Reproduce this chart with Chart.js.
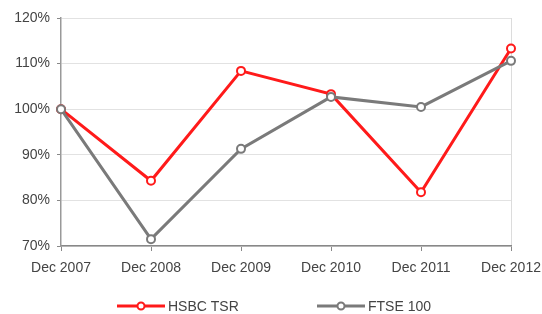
<!DOCTYPE html>
<html>
<head>
<meta charset="utf-8">
<script src="https://cdn.jsdelivr.net/npm/chart.js@4.4.0/dist/chart.umd.min.js"></script>
<style>
  html, body { margin: 0; padding: 0; background: #fff; }
  #wrap { width: 542px; height: 314px; }
</style>
</head>
<body>
<div id="wrap"><canvas id="chart" width="542" height="314"></canvas></div>
<script>
const years = ["Dec 2007", "Dec 2008", "Dec 2009", "Dec 2010", "Dec 2011", "Dec 2012"];
const hsbcTsr = [100, 84.3, 108.4, 103.3, 81.8, 113.3];
const ftse100 = [100, 71.5, 91.3, 102.7, 100.5, 110.6];
const yTicks = [70, 80, 90, 100, 110, 120];

const RED = "#ff1a1a";
const GREY = "#7a7a7a";
const TEXT = "#444";
const FONT = "'Liberation Sans', Arial, sans-serif";

// legend drawn under the axis, line + hollow marker like the original
const bottomLegend = {
  id: "bottomLegend",
  afterDraw(chart) {
    const ctx = chart.ctx;
    const y = 306;
    const items = [
      { x: 117, label: "HSBC TSR", color: RED },
      { x: 317, label: "FTSE 100", color: GREY }
    ];
    ctx.save();
    items.forEach(it => {
      ctx.strokeStyle = it.color;
      ctx.lineWidth = 3;
      ctx.beginPath();
      ctx.moveTo(it.x, y);
      ctx.lineTo(it.x + 48, y);
      ctx.stroke();
      ctx.lineWidth = 2;
      ctx.fillStyle = "#fff";
      ctx.beginPath();
      ctx.arc(it.x + 24, y, 3.5, 0, Math.PI * 2);
      ctx.fill();
      ctx.stroke();
      ctx.fillStyle = TEXT;
      ctx.font = "14px " + FONT;
      ctx.textBaseline = "middle";
      ctx.fillText(it.label, it.x + 51, y + 1);
    });
    ctx.restore();
  }
};

new Chart(document.getElementById("chart"), {
  type: "line",
  data: {
    labels: years,
    datasets: [
      {
        label: "FTSE 100",
        data: ftse100,
        borderColor: GREY,
        borderWidth: 3,
        pointRadius: 4,
        pointBorderWidth: 2,
        pointBackgroundColor: "#fff",
        pointBorderColor: GREY,
        tension: 0
      },
      {
        label: "HSBC TSR",
        data: hsbcTsr,
        borderColor: RED,
        borderWidth: 3,
        pointRadius: 4,
        pointBorderWidth: 2,
        pointBackgroundColor: "#fff",
        pointBorderColor: RED,
        tension: 0
      }
    ]
  },
  options: {
    responsive: false,
    animation: false,
    layout: { padding: { top: 18, right: 31, left: 0, bottom: 0 } },
    plugins: {
      legend: { display: false },
      tooltip: { enabled: false }
    },
    scales: {
      x: {
        offset: false,
        grid: {
          color: c => (c.index === years.length - 1 ? "#dcdcdc" : "rgba(0,0,0,0)"),
          tickColor: "#888",
          tickLength: 5
        },
        border: { color: "#888", width: 1.5 },
        ticks: {
          color: TEXT,
          font: { family: FONT, size: 14 },
          maxRotation: 0,
          autoSkip: false,
          padding: 9
        },
        afterFit: s => {
          s.height = 68;
          // let the last label run off the edge as in the original
          s.paddingLeft = 0;
          s.paddingRight = 0;
        }
      },
      y: {
        min: 70,
        max: 120,
        afterBuildTicks: s => { s.ticks = yTicks.map(v => ({ value: v })); },
        grid: { color: "#e2e2e2", tickColor: "#888", tickLength: 4 },
        border: { color: "#999", width: 1.5 },
        ticks: {
          color: TEXT,
          font: { family: FONT, size: 14 },
          padding: 7,
          callback: v => v + "%"
        },
        afterFit: s => { s.width = 61; }
      }
    }
  },
  plugins: [bottomLegend]
});
</script>
</body>
</html>
